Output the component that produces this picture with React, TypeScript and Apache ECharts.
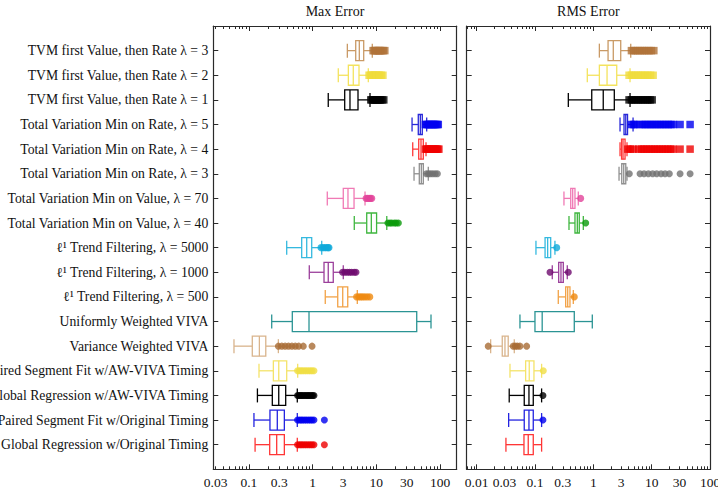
import React, { useEffect, useRef } from 'react';
import * as echarts from 'echarts';

const categories = [
  'TVM first Value, then Rate λ = 3',
  'TVM first Value, then Rate λ = 2',
  'TVM first Value, then Rate λ = 1',
  'Total Variation Min on Rate, λ = 5',
  'Total Variation Min on Rate, λ = 4',
  'Total Variation Min on Rate, λ = 3',
  'Total Variation Min on Value, λ = 70',
  'Total Variation Min on Value, λ = 40',
  'ℓ¹ Trend Filtering, λ = 5000',
  'ℓ¹ Trend Filtering, λ = 1000',
  'ℓ¹ Trend Filtering, λ = 500',
  'Uniformly Weighted VIVA',
  'Variance Weighted VIVA',
  'Paired Segment Fit w/AW-VIVA Timing',
  'Global Regression w/AW-VIVA Timing',
  'Paired Segment Fit w/Original Timing',
  'Global Regression w/Original Timing',
];

// [whisker low, q1, median, q3, whisker high]
const maxErrorStats = [
  [3.51, 4.75, 5.41, 6.34, 8.65],
  [2.53, 3.64, 4.35, 5.35, 7.49],
  [1.76, 3.19, 3.86, 5.16, 7.96],
  [36.4, 45.6, 49.1, 52.7, 61.8],
  [37.3, 46.3, 50.3, 54.7, 60.3],
  [39.1, 47.3, 50.9, 54.7, 65.5],
  [1.7, 3.03, 3.59, 4.47, 6.65],
  [4.51, 7.07, 8.35, 10.1, 14.6],
  [0.392, 0.674, 0.808, 0.968, 1.39],
  [0.887, 1.51, 1.76, 2.11, 3.03],
  [1.58, 2.48, 2.97, 3.56, 5.03],
  [0.228, 0.48, 0.878, 43.1, 72.2],
  [0.0583, 0.113, 0.146, 0.184, 0.29],
  [0.144, 0.242, 0.294, 0.392, 0.583],
  [0.136, 0.233, 0.294, 0.378, 0.575],
  [0.12, 0.214, 0.279, 0.36, 0.575],
  [0.125, 0.212, 0.273, 0.36, 0.575],
];

const maxErrorOutliers = [
  [8.9, 9.3, 9.7, 10.1, 10.6, 11.1, 11.6, 12.2, 12.9, 13.6],
  [7.7, 8.1, 8.5, 9.0, 9.5, 10.0, 10.6, 11.2, 11.9, 12.7],
  [8.2, 8.6, 9.0, 9.5, 10.0, 10.5, 11.0, 11.6, 12.3, 13.1],
  [59, 62, 65, 68, 71, 74, 78, 82, 86, 90, 94],
  [59, 62, 65, 68, 72, 76, 80, 84, 88, 92, 96],
  [61, 66, 71, 77, 84, 91],
  [6.9, 7.3, 7.7, 8.1, 8.5],
  [15.2, 16.4, 17.5, 19.2, 20.5, 22.2],
  [1.35, 1.45, 1.55, 1.65, 1.75, 1.81],
  [2.95, 3.2, 3.5, 3.8, 4.1, 4.5, 4.8],
  [4.9, 5.3, 5.7, 6.1, 6.6, 7.2, 7.9],
  [],
  [0.29, 0.328, 0.37, 0.418, 0.473, 0.535, 0.605, 0.714, 0.98],
  [0.58, 0.62, 0.66, 0.7, 0.75, 0.8, 0.86, 0.92, 0.98, 1.05],
  [0.58, 0.61, 0.64, 0.67, 0.7, 0.74, 0.78, 0.82, 0.86, 0.9, 0.95, 1.0, 1.05],
  [0.58, 0.62, 0.66, 0.7, 0.75, 0.8, 0.86, 0.92, 0.98, 1.05, 1.53],
  [0.58, 0.62, 0.66, 0.7, 0.75, 0.8, 0.86, 0.92, 0.98, 1.05, 1.53],
];

const rmsErrorStats = [
  [1.27, 1.79, 2.2, 2.95, 4.38],
  [0.789, 1.27, 1.72, 2.52, 4.26],
  [0.373, 0.94, 1.48, 2.29, 4.26],
  [2.87, 3.36, 3.6, 3.86, 4.8],
  [2.87, 3.05, 3.23, 3.5, 3.78],
  [2.76, 3.07, 3.32, 3.6, 3.78],
  [0.314, 0.41, 0.443, 0.485, 0.553],
  [0.383, 0.485, 0.532, 0.575, 0.674],
  [0.104, 0.149, 0.165, 0.186, 0.22],
  [0.198, 0.255, 0.279, 0.306, 0.358],
  [0.251, 0.336, 0.364, 0.398, 0.454],
  [0.0553, 0.1, 0.133, 0.472, 0.961],
  [0.0174, 0.0275, 0.0306, 0.0348, 0.0442],
  [0.0373, 0.0692, 0.0798, 0.0961, 0.13],
  [0.0362, 0.0655, 0.0789, 0.0935, 0.13],
  [0.0354, 0.0655, 0.0789, 0.0935, 0.13],
  [0.0318, 0.0648, 0.0767, 0.0935, 0.13],
];

const rmsErrorOutliers = [
  [4.5, 4.9, 5.3, 5.8, 6.3, 6.9, 7.5, 8.2, 9.0, 9.9, 10.9],
  [4.1, 4.5, 4.9, 5.4, 5.9, 6.5, 7.1, 7.8, 8.6, 9.6, 10.6],
  [4.1, 4.5, 4.9, 5.4, 5.9, 6.5, 7.1, 7.8, 8.6, 9.4, 10.2],
  [4.5, 4.9, 5.2, 6.3, 7.0, 7.8, 8.6, 9.5, 10.5, 11.6, 12.8, 14.2, 15.7, 17.4, 19.3, 21.4, 23.6, 30.7, 45.6],
  [3.9, 4.3, 4.8, 6.0, 6.7, 7.4, 8.2, 9.1, 10.1, 11.2, 12.4, 13.8, 15.3, 17.0, 18.9, 21.0, 23.4, 30.7, 45.6],
  [4.14, 6.32, 7.41, 8.78, 10.4, 12.2, 14.5, 17.0, 20.1, 30.7, 45.6],
  [0.608],
  [0.741],
  [0.236],
  [0.181, 0.373],
  [0.472],
  [],
  [0.0158, 0.0424, 0.046, 0.05, 0.0553, 0.072],
  [0.139],
  [0.137],
  [0.137],
  [],
];

const boxColors = [
  '#c99a66', '#f4e35e', '#000000', '#2828d8', '#ff3a3a', '#909090',
  '#f07ab5', '#3fb63f', '#35b9df', '#9b3f9b', '#f2a246', '#2b9494',
  '#d9b48c', '#f4e36a', '#000000', '#2424e0', '#ff3636',
];
const outlierColors = [
  '#b0733a', '#f0dc3c', '#000000', '#0000f0', '#f00000', '#707070',
  '#e2449a', '#0a9a0a', '#0ea9d9', '#6e0a6e', '#ef8a10', '#2b9494',
  '#a86c34', '#f0df45', '#000000', '#0000f0', '#ee0000',
];
const squareRows = [0, 1, 2, 3, 4];

const maxTickLabels = ['0.03', '0.1', '0.3', '1', '3', '10', '30', '100'];
const rmsTickLabels = ['0.01', '0.03', '0.1', '0.3', '1', '3', '10', '30', '100'];
const panelTitles = ['Max Error', 'RMS Error'];

const FONT = 'Liberation Serif';
const AXIS_COLOR = '#2a2a2a';

export default function App() {
  const ref = useRef<HTMLDivElement>(null);

  useEffect(() => {
    if (!ref.current) return;
    const chart = echarts.init(ref.current, undefined, { renderer: 'svg' });

    const panels = [
      { left: 213.3, width: 243.4, min: -1.559, max: 2.262, labels: maxTickLabels, stats: maxErrorStats, outliers: maxErrorOutliers, title: panelTitles[0] },
      { left: 466.7, width: 243.3, min: -2.17, max: 2.0, labels: rmsTickLabels, stats: rmsErrorStats, outliers: rmsErrorOutliers, title: panelTitles[1] },
    ];
    const top = 26;
    const height = 443.3;

    const grids: any[] = [];
    const xAxes: any[] = [];
    const yAxes: any[] = [];
    const series: any[] = [];
    const graphics: any[] = [];

    panels.forEach((p, pi) => {
      grids.push({ left: p.left, top, width: p.width, height, containLabel: false, outerBoundsMode: 'none' });
      const majors: number[] = [];
      const minors: number[] = [];
      for (let k = -3; k <= 3; k++) {
        for (let m = 1; m <= 9; m++) {
          const v = Math.log10(m * Math.pow(10, k));
          if (v < p.min - 1e-9 || v > p.max + 1e-9) continue;
          if (m === 1) majors.push(v);
          else minors.push(v);
        }
      }
      const labelVals = p.labels.map((s) => Math.log10(parseFloat(s)));
      const fmt = (val: number) => {
        for (let i = 0; i < labelVals.length; i++) {
          if (Math.abs(labelVals[i] - val) < 1e-6) return p.labels[i];
        }
        return '';
      };
      const baseX = {
        type: 'value',
        gridIndex: pi,
        min: p.min,
        max: p.max,
        splitLine: { show: false },
        axisLine: { onZero: false, show: false, lineStyle: { color: AXIS_COLOR, width: 1 } },
        axisLabel: { show: false },
      };
      xAxes.push({
        ...baseX,
        position: 'bottom',
        axisLine: { onZero: false, show: true, lineStyle: { color: AXIS_COLOR, width: 1.2 } },
        axisTick: { show: true, inside: true, length: 5, customValues: majors, lineStyle: { color: AXIS_COLOR } },
        axisLabel: {
          show: true, customValues: labelVals, formatter: fmt, fontFamily: FONT, fontSize: 13.5,
          color: '#111', margin: 6, alignMinLabel: 'center', alignMaxLabel: 'center', hideOverlap: false,
        },
      });
      xAxes.push({
        ...baseX,
        position: 'bottom',
        axisTick: { show: true, inside: true, length: 3, customValues: minors, lineStyle: { color: AXIS_COLOR } },
      });
      xAxes.push({
        ...baseX,
        position: 'top',
        axisLine: { onZero: false, show: true, lineStyle: { color: AXIS_COLOR, width: 1.2 } },
        axisTick: { show: true, inside: true, length: 5, customValues: majors, lineStyle: { color: AXIS_COLOR } },
      });
      xAxes.push({
        ...baseX,
        position: 'top',
        axisTick: { show: true, inside: true, length: 3, customValues: minors, lineStyle: { color: AXIS_COLOR } },
      });

      const rowVals = categories.map((_, i) => i + 1);
      yAxes.push({
        type: 'value',
        gridIndex: pi,
        min: 0,
        max: 18,
        inverse: true,
        position: 'left',
        splitLine: { show: false },
        axisLine: { onZero: false, show: true, lineStyle: { color: AXIS_COLOR, width: 1.2 } },
        axisTick: { show: true, inside: true, length: 5, customValues: rowVals, lineStyle: { color: AXIS_COLOR } },
        axisLabel: pi === 0
          ? { show: true, customValues: rowVals, formatter: (v: number) => categories[Math.round(v) - 1] || '', fontFamily: FONT, fontSize: 13.7, color: '#111', margin: 5 }
          : { show: false },
      });
      yAxes.push({
        type: 'value',
        gridIndex: pi,
        min: 0,
        max: 18,
        inverse: true,
        position: 'right',
        splitLine: { show: false },
        axisLine: { onZero: false, show: true, lineStyle: { color: AXIS_COLOR, width: 1.2 } },
        axisTick: { show: true, inside: true, length: 5, customValues: rowVals, lineStyle: { color: AXIS_COLOR } },
        axisLabel: { show: false },
      });

      const xIdx = pi * 4;
      const yIdx = pi * 2;
      const boxData = p.stats.map((s, i) => [i + 1, ...s.map((v) => Math.log10(v))]);
      series.push({
        type: 'custom',
        xAxisIndex: xIdx,
        yAxisIndex: yIdx,
        encode: { x: [1, 2, 3, 4, 5], y: 0 },
        data: boxData,
        z: 2,
        renderItem: (params: any, api: any) => {
          const row = api.value(0);
          const lo = api.coord([api.value(1), row]);
          const q1 = api.coord([api.value(2), row]);
          const md = api.coord([api.value(3), row]);
          const q3 = api.coord([api.value(4), row]);
          const hi = api.coord([api.value(5), row]);
          const y = lo[1];
          const color = boxColors[params.dataIndex];
          const lw = 1.3;
          const st = { stroke: color, lineWidth: lw, fill: null };
          return {
            type: 'group',
            children: [
              { type: 'line', shape: { x1: lo[0], y1: y, x2: q1[0], y2: y }, style: st },
              { type: 'line', shape: { x1: q3[0], y1: y, x2: hi[0], y2: y }, style: st },
              { type: 'line', shape: { x1: lo[0], y1: y - 7, x2: lo[0], y2: y + 7 }, style: st },
              { type: 'line', shape: { x1: hi[0], y1: y - 7, x2: hi[0], y2: y + 7 }, style: st },
              { type: 'rect', shape: { x: q1[0], y: y - 10, width: q3[0] - q1[0], height: 20 }, style: { stroke: color, lineWidth: lw, fill: '#ffffff' } },
              { type: 'line', shape: { x1: md[0], y1: y - 10, x2: md[0], y2: y + 10 }, style: st },
            ],
          };
        },
      });

      const outData: any[] = [];
      p.outliers.forEach((list, i) => {
        list.forEach((v) => {
          const sq = squareRows.includes(i);
          outData.push({
            value: [Math.log10(v), i + 1],
            symbol: sq ? 'rect' : 'circle',
            symbolSize: sq ? 7.5 : 7,
            itemStyle: { color: outlierColors[i] },
          });
        });
      });
      series.push({
        type: 'scatter',
        xAxisIndex: xIdx,
        yAxisIndex: yIdx,
        data: outData,
        z: 3,
        silent: true,
      });

      graphics.push({
        type: 'text',
        x: p.left + p.width / 2,
        y: 11,
        style: {
          text: p.title,
          fontFamily: FONT,
          fontSize: 14,
          fill: '#111',
          textAlign: 'center',
          textVerticalAlign: 'middle',
        },
      });
    });

    chart.setOption({
      animation: false,
      backgroundColor: '#ffffff',
      grid: grids,
      xAxis: xAxes,
      yAxis: yAxes,
      series,
      graphic: graphics,
    });

    return () => chart.dispose();
  }, []);

  return (
    <div
      ref={ref}
      style={{ position: 'absolute', left: 0, top: 0, width: 718, height: 494 }}
    />
  );
}
